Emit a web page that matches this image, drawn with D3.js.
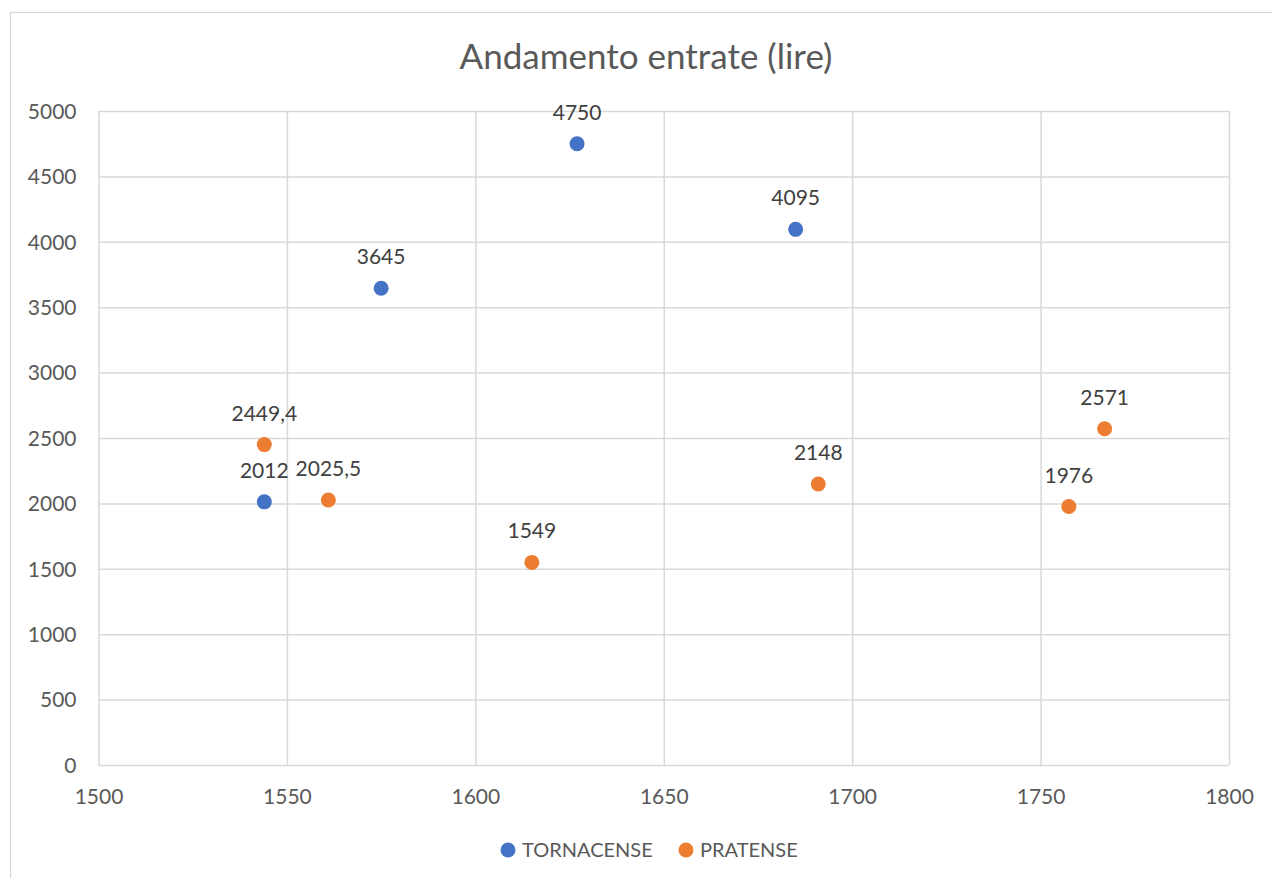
<!DOCTYPE html>
<html><head><meta charset="utf-8">
<script src="https://cdn.jsdelivr.net/npm/d3@7"></script>
<style>body{margin:0;background:#fff;} text{font-family:Lato,"Open Sans",sans-serif;}</style>
</head><body><svg id="c" width="1272" height="878"></svg>
<script>
const title = "Andamento entrate (lire)";
const seriesNames = ["TORNACENSE", "PRATENSE"];
const seriesColors = ["#4472c4", "#ed7d31"];
const tornYears = [1544, 1575, 1627, 1685];
const tornValues = [2012, 3645, 4750, 4095];
const tornLabels = ["2012", "3645", "4750", "4095"];
const pratYears = [1544, 1561, 1615, 1691, 1757.5, 1767];
const pratValues = [2449.4, 2025.5, 1549, 2148, 1976, 2571];
const pratLabels = ["2449,4", "2025,5", "1549", "2148", "1976", "2571"];
const xTicks = [1500, 1550, 1600, 1650, 1700, 1750, 1800];
const yTicks = [0, 500, 1000, 1500, 2000, 2500, 3000, 3500, 4000, 4500, 5000];

const svg = d3.select("#c");
const L = 98.5, R = 1229, T = 111, B = 765;
const x = d3.scaleLinear().domain([1500, 1800]).range([L, R]);
const y = d3.scaleLinear().domain([0, 5000]).range([B, T]);

svg.append("rect").attr("x", 10.5).attr("y", 12.5).attr("width", 1300).attr("height", 1000)
  .attr("fill", "#fff").attr("stroke", "#d9d9d9").attr("stroke-width", 1.3);

svg.append("text").attr("x", 646).attr("y", 69).attr("text-anchor", "middle")
  .attr("font-size", 35).attr("fill", "#595959").text(title);

const gx = svg.append("g").attr("transform", `translate(0,${B})`)
  .call(d3.axisBottom(x).tickValues(xTicks).tickSize(-(B - T)).tickFormat(d3.format("d")));
const gy = svg.append("g").attr("transform", `translate(${L},0)`)
  .call(d3.axisLeft(y).tickValues(yTicks).tickSize(-(R - L)).tickFormat(d3.format("d")));
[gx, gy].forEach(g => {
  g.select(".domain").remove();
  g.selectAll(".tick line").attr("stroke", "#d9d9d9").attr("stroke-width", 1.5);
  g.selectAll(".tick text").attr("fill", "#595959").attr("font-size", 21)
    .attr("font-family", "Lato, 'Open Sans', sans-serif");
});
gx.selectAll(".tick text").attr("dy", 0).attr("y", 39);
gy.selectAll(".tick text").attr("x", -22).attr("dy", "0.35em");

const series = [
  {years: tornYears, values: tornValues, labels: tornLabels, color: seriesColors[0]},
  {years: pratYears, values: pratValues, labels: pratLabels, color: seriesColors[1]}
];
series.forEach(s => {
  const data = s.years.map((yr, i) => ({yr, v: s.values[i], lab: s.labels[i]}));
  svg.append("g").selectAll("circle").data(data).join("circle")
    .attr("cx", d => x(d.yr)).attr("cy", d => y(d.v)).attr("r", 7.5).attr("fill", s.color);
  svg.append("g").selectAll("text").data(data).join("text")
    .attr("x", d => x(d.yr)).attr("y", d => y(d.v) - 24).attr("text-anchor", "middle")
    .attr("font-size", 21).attr("fill", "#404040").text(d => d.lab);
});

const leg = svg.append("g");
const legX = [508, 686];
seriesNames.forEach((n, i) => {
  leg.append("circle").attr("cx", legX[i]).attr("cy", 850).attr("r", 7.5).attr("fill", seriesColors[i]);
  leg.append("text").attr("x", legX[i] + 14).attr("y", 857).attr("font-size", 20)
    .attr("fill", "#595959").text(n);
});
</script></body></html>
